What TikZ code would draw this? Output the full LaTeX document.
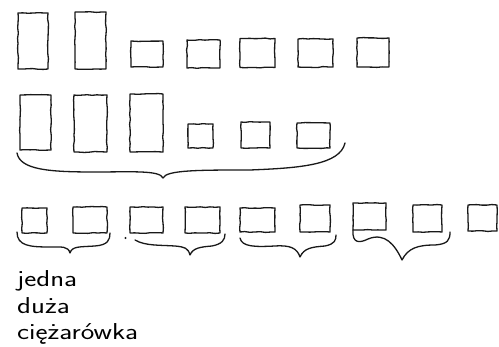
\documentclass[tikz,border=0pt]{standalone}
\usepackage{fontspec}
\usepackage{graphicx}
\usetikzlibrary{decorations.pathmorphing}
\newcommand\widetext[1]{\scalebox{1.25}[1]{#1}}
\tikzset{
  sketch/.style={draw=black!90, line width=1.3pt, line join=round, line cap=round,
    decorate, decoration={random steps, segment length=5pt, amplitude=0.45pt}},
  box/.style={sketch, inner sep=0pt, minimum width=#1},
  box/.default=30pt,
  brace/.style={draw=black!90, line width=1.3pt, line cap=round, line join=round},
  word/.style={anchor=base west, inner sep=0pt, font=\sffamily\fontsize{23}{27}\selectfont}
}
\begin{document}
\begin{tikzpicture}[x=1pt, y=-1pt]
\useasboundingbox (0,0) rectangle (499,347);
% row 1
\node[box=30pt, minimum height=56pt] (a1) at (33,41) {};
\node[box=31pt, minimum height=57pt] (a2) at (90.5,40.5) {};
\node[box=32pt, minimum height=26pt] (a3) at (147,54) {};
\node[box=33pt, minimum height=28pt] (a4) at (203.5,54) {};
\node[box=35pt, minimum height=29pt] (a5) at (257.5,53) {};
\node[box=35pt, minimum height=28pt] (a6) at (315.5,53) {};
\node[box=32pt, minimum height=29pt] (a7) at (373,52.5) {};
% row 2
\node[box=31pt, minimum height=55pt] (b1) at (35.5,122.5) {};
\node[box=33pt, minimum height=57pt] (b2) at (90.5,123.5) {};
\node[box=33pt, minimum height=58pt] (b3) at (146.5,123) {};
\node[box=25pt, minimum height=24pt] (b4) at (200.5,136) {};
\node[box=29pt, minimum height=26pt] (b5) at (255.5,135) {};
\node[box=33pt, minimum height=25pt] (b6) at (313.5,135.5) {};
\draw[brace] (17,153) .. controls (20,170) and (50,172) .. (95,172)
  .. controls (130,172) and (160,170) .. (163,178)
  .. controls (166,170) and (200,170) .. (250,170)
  .. controls (300,168) and (340,165) .. (345,143);
% row 3
\node[box=25pt, minimum height=25pt] (c1) at (34.5,220.5) {};
\node[box=34pt, minimum height=26pt] (c2) at (90,220) {};
\node[box=33pt, minimum height=26pt] (c3) at (146.5,220) {};
\node[box=35pt, minimum height=26pt] (c4) at (202.5,220) {};
\node[box=35pt, minimum height=24pt] (c5) at (257.5,220) {};
\node[box=30pt, minimum height=27pt] (c6) at (315,218.5) {};
\node[box=33pt, minimum height=27pt] (c7) at (369.5,216.5) {};
\node[box=29pt, minimum height=27pt] (c8) at (427.5,218.5) {};
\node[box=29pt, minimum height=26pt] (c9) at (482.5,218) {};
% braces row 3
\draw[brace] (17,232) .. controls (17,246) and (30,247) .. (50,247)
  .. controls (62,247) and (68,246) .. (70,253)
  .. controls (72,246) and (80,247) .. (95,246)
  .. controls (108,245) and (110,240) .. (110,233);
\draw[brace] (135,240) .. controls (145,246) and (160,245) .. (175,246)
  .. controls (185,247) and (188,248) .. (190,255)
  .. controls (193,248) and (200,247) .. (212,246)
  .. controls (222,244) and (225,240) .. (225,234);
\fill[black!90] (125.5,238) circle (1.1pt);
\draw[brace] (240,238) .. controls (242,247) and (255,247) .. (275,246)
  .. controls (290,245) and (297,248) .. (300,257)
  .. controls (304,248) and (312,247) .. (325,246)
  .. controls (335,244) and (336,240) .. (336,235);
\draw[brace] (353,230) .. controls (352,244) and (360,243) .. (368,239)
  .. controls (385,232) and (395,245) .. (402,260)
  .. controls (408,248) and (418,245) .. (435,245)
  .. controls (448,244) and (450,240) .. (450,232);
% text
\node[word] (t1) at (17,287) {\widetext{jedna}};
\node[word] (t2) at (17,314) {\widetext{duża}};
\node[word] (t3) at (17,340) {\widetext{ciężarówka}};
\end{tikzpicture}
\end{document}
